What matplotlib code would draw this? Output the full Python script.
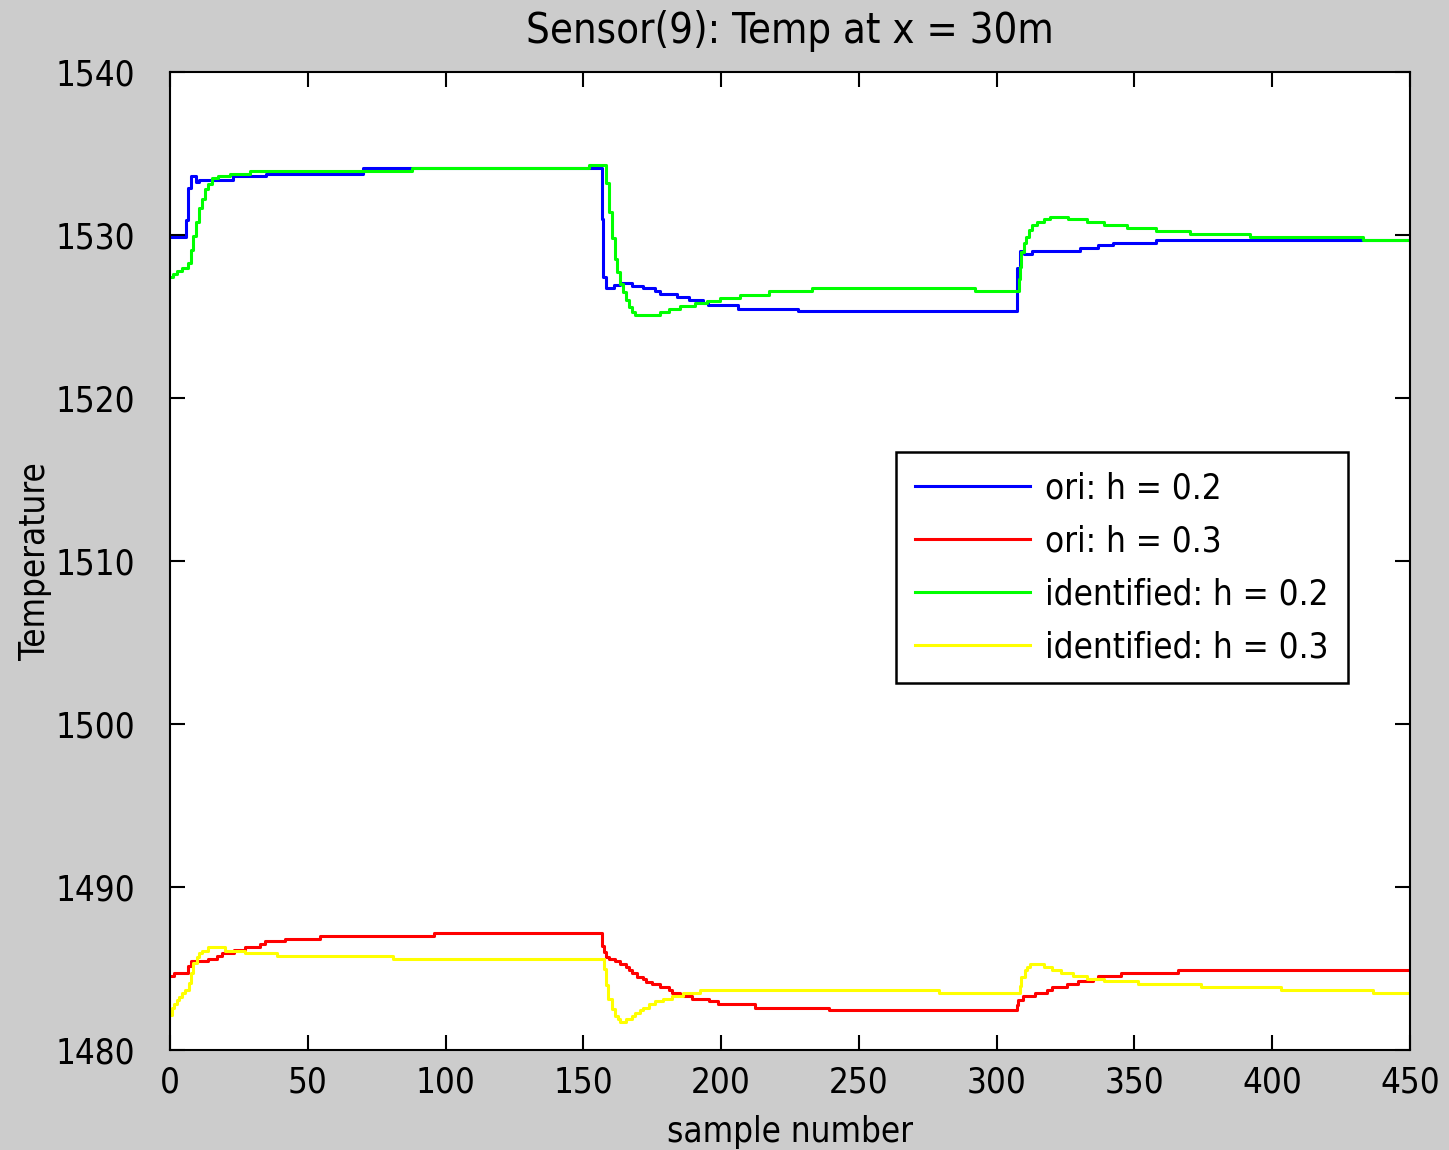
import matplotlib
matplotlib.use('Agg')
import matplotlib.pyplot as plt

# values; each (sample, value) pair holds until the next one
ori_02_x = [0, 5.8, 6.4, 7.6, 9.4, 10.5, 23, 35, 70, 156.7, 157.3, 158.3, 161.2, 163.3,
            167.8, 171.8, 176.1, 177.9, 184.1, 188.4, 193.5, 195.3, 206.1, 227.8, 307.3,
            308.3, 310, 312.8, 330.3, 336.9, 342.3, 357.9, 450]
ori_02_y = [1529.86, 1530.9, 1532.9, 1533.6, 1533.27, 1533.4, 1533.6, 1533.75, 1534.1, 1531.0,
            1527.4, 1526.75, 1526.93, 1527.07, 1526.9, 1526.73, 1526.58, 1526.36, 1526.18,
            1526.0, 1525.83, 1525.69, 1525.48, 1525.32, 1527.98, 1529.0, 1528.83, 1529.0,
            1529.18, 1529.37, 1529.53, 1529.67, 1529.67]

ori_03_x = [0, 1.45, 6.5, 7.6, 13.8, 17.1, 18.9, 23.2, 27.2, 32.7, 34.5, 41.7, 54.4, 95.8,
            156.8, 157.6, 158.2, 159.3, 161.5, 163.3, 165.5, 166.6, 167.7, 169.5, 171.7,
            172.8, 175, 177.8, 181.1, 182.2, 185.1, 186.2, 189.4, 195.6, 198.9, 212.3, 239.1,
            307.4, 307.7, 309.5, 313.9, 318.3, 320.1, 325.5, 329.5, 335, 336.8, 345.1, 365.8, 450]
ori_03_y = [1484.52, 1484.72, 1485.15, 1485.46, 1485.6, 1485.75, 1485.95, 1486.12, 1486.3,
            1486.5, 1486.67, 1486.81, 1487.0, 1487.16, 1486.4, 1486.0, 1485.73, 1485.58,
            1485.44, 1485.27, 1485.1, 1484.9, 1484.72, 1484.5, 1484.36, 1484.2, 1484.03,
            1483.85, 1483.68, 1483.48, 1483.38, 1483.3, 1483.15, 1482.98, 1482.8, 1482.6,
            1482.45, 1482.76, 1483.07, 1483.3, 1483.48, 1483.66, 1483.85, 1484.03, 1484.22,
            1484.38, 1484.52, 1484.7, 1484.9, 1484.9]

ident_02_x = [0, 1.2, 2.5, 4.4, 6.5, 7.8, 8.3, 9.4, 10.5, 11.6, 12.7, 13.8, 15.2, 17.4, 21.8,
              29, 88, 152, 158.1, 159.3, 160.4, 161.5, 162.2, 163.3, 164.4, 165.5, 166.6,
              167.7, 168.8, 177.8, 181.1, 185.1, 190.5, 194.9, 199.6, 206.9, 217.4, 233,
              292.1, 308.1, 308.6, 309.0, 309.8, 310.5, 311.6, 313.0, 314.5, 317.0, 319.3,
              325.8, 332.8, 338.9, 347.3, 357.8, 370.2, 391.9, 432.9, 450]
ident_02_y = [1527.44, 1527.6, 1527.8, 1527.97, 1528.28, 1529.08, 1529.94, 1530.8, 1531.66,
              1532.2, 1532.8, 1533.13, 1533.5, 1533.6, 1533.74, 1533.93, 1534.1, 1534.3,
              1533.2, 1531.4, 1529.8, 1528.5, 1527.7, 1527.0, 1526.5, 1526.0, 1525.6, 1525.3,
              1525.11, 1525.28, 1525.46, 1525.62, 1525.8, 1525.96, 1526.12, 1526.3, 1526.55,
              1526.75, 1526.55, 1527.3, 1528.06, 1528.98, 1529.49, 1529.9, 1530.3, 1530.6,
              1530.8, 1530.96, 1531.12, 1530.96, 1530.78, 1530.6, 1530.43, 1530.25, 1530.06,
              1529.88, 1529.69, 1529.69]

ident_03_x = [0, 0.7, 1.45, 2.5, 3.3, 4.4, 5.4, 7.0, 7.6, 8.3, 9.8, 10.5, 11.6, 13.8, 20,
              27.2, 38.8, 80.9, 157.5, 158.2, 158.9, 160.4, 161.5, 162.6, 163.3, 165.5,
              167.7, 168.8, 170.6, 171.7, 173.8, 176, 178.9, 182.2, 186.2, 192.3, 279,
              308.5, 309.0, 310.3, 311, 312.1, 317.2, 320.1, 323.3, 327.7, 332.8, 338.9,
              351.3, 374.1, 403.2, 436.6, 450]
ident_03_y = [1482.15, 1482.56, 1482.8, 1483.07, 1483.27, 1483.48, 1483.68, 1484.1, 1484.7,
              1485.34, 1485.7, 1485.97, 1486.1, 1486.3, 1486.1, 1485.95, 1485.75, 1485.6,
              1485.0, 1484.0, 1483.1, 1482.5, 1482.1, 1481.9, 1481.72, 1481.9, 1482.1,
              1482.25, 1482.45, 1482.6, 1482.8, 1482.98, 1483.12, 1483.3, 1483.48, 1483.67,
              1483.48, 1483.9, 1484.5, 1484.9, 1485.11, 1485.28, 1485.07, 1484.9, 1484.7,
              1484.52, 1484.38, 1484.22, 1484.03, 1483.85, 1483.66, 1483.48, 1483.48]

labels = ['ori: h = 0.2', 'ori: h = 0.3', 'identified: h = 0.2', 'identified: h = 0.3']

plt.rcParams['font.family'] = ['DejaVu Sans']
plt.rcParams['font.stretch'] = 'condensed'
plt.rcParams['font.size'] = 25

fig = plt.figure(figsize=(14.49, 11.5), dpi=100, facecolor='#cccccc')
ax = fig.add_axes([170 / 1449, 1 - 1050 / 1150, 1240 / 1449, 978 / 1150])
ax.set_facecolor('white')

ax.plot(ori_02_x, ori_02_y, color='#0000ff', lw=2.2, drawstyle='steps-post', label=labels[0])
ax.plot(ori_03_x, ori_03_y, color='#ff0000', lw=2.2, drawstyle='steps-post', label=labels[1])
ax.plot(ident_02_x, ident_02_y, color='#00ff00', lw=2.2, drawstyle='steps-post', label=labels[2])
ax.plot(ident_03_x, ident_03_y, color='#ffff00', lw=2.2, drawstyle='steps-post', label=labels[3])

ax.set_xlim(0, 450)
ax.set_ylim(1480, 1540)
ax.set_xticks(range(0, 451, 50))
ax.set_yticks(range(1480, 1541, 10))
ax.tick_params(direction='in', length=11, width=1.5, top=True, right=True)
ax.tick_params(axis='x', pad=11)
ax.tick_params(axis='y', pad=25)
for s in ax.spines.values():
    s.set_linewidth(1.5)

ax.set_title('Sensor(9): Temp at x = 30m', pad=21)
ax.set_xlabel('sample number', labelpad=11)
ax.set_ylabel('Temperature')
ax.yaxis.set_label_coords(-0.095, 0.5)

leg = ax.legend(loc='upper left', bbox_to_anchor=((896 - 170) / 1240, (1050 - 452) / 978),
                borderaxespad=0, fancybox=False, edgecolor='black', framealpha=1,
                handlelength=3.3, handletextpad=0.45, labelspacing=0.55, borderpad=0.55)
leg.get_frame().set_linewidth(1.8)

fig.savefig('out.png', dpi=100, facecolor=fig.get_facecolor())
